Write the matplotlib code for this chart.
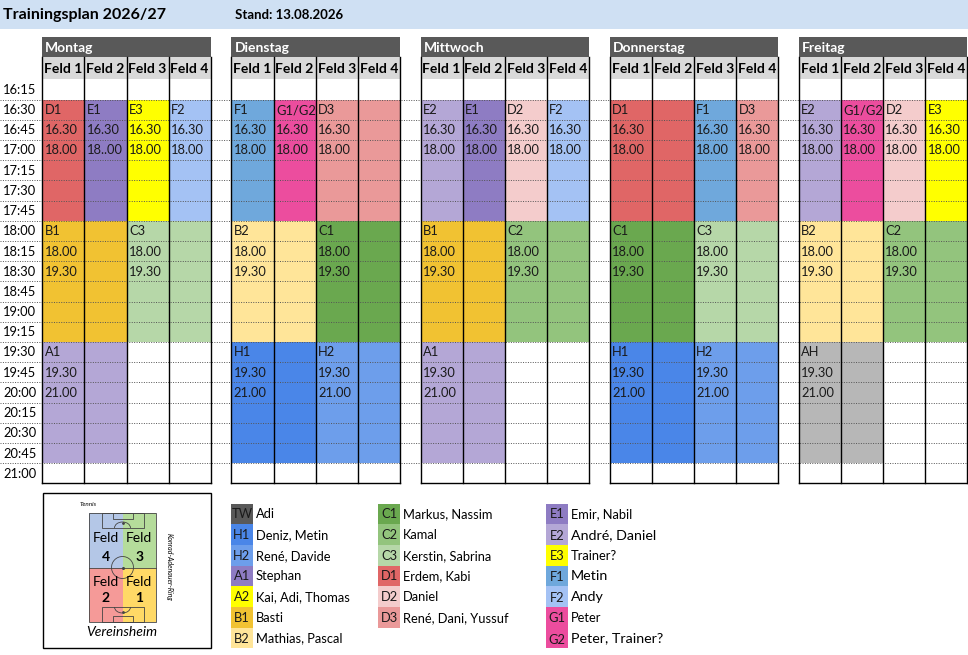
import matplotlib.pyplot as plt
from matplotlib.patches import Rectangle, Circle, Arc

plt.rcParams['font.family'] = ['Lato', 'DejaVu Sans']

# --- data --------------------------------------------------------------
title = 'Trainingsplan 2026/27'
stand = 'Stand: 13.08.2026'
days = ['Montag', 'Dienstag', 'Mittwoch', 'Donnerstag', 'Freitag']
fields = ['Feld 1', 'Feld 2', 'Feld 3', 'Feld 4']
slots = ['16:15', '16:30', '16:45', '17:00', '17:15', '17:30', '17:45',
         '18:00', '18:15', '18:30', '18:45', '19:00', '19:15',
         '19:30', '19:45', '20:00', '20:15', '20:30', '20:45', '21:00']

# training blocks: day, first field (1-4), number of fields, group, from, to
blk_day = [0, 0, 0, 0, 0, 0, 0,
           1, 1, 1, 1, 1, 1, 1,
           2, 2, 2, 2, 2, 2, 2,
           3, 3, 3, 3, 3, 3, 3,
           4, 4, 4, 4, 4, 4, 4]
blk_field = [1, 2, 3, 4, 1, 3, 1,
             1, 2, 3, 1, 3, 1, 3,
             1, 2, 3, 4, 1, 3, 1,
             1, 3, 4, 1, 3, 1, 3,
             1, 2, 3, 4, 1, 3, 1]
blk_span = [1, 1, 1, 1, 2, 2, 2,
            1, 1, 2, 2, 2, 2, 2,
            1, 1, 1, 1, 2, 2, 2,
            2, 1, 1, 2, 2, 2, 2,
            1, 1, 1, 1, 2, 2, 2]
blk_group = ['D1', 'E1', 'E3', 'F2', 'B1', 'C3', 'A1',
             'F1', 'G1/G2', 'D3', 'B2', 'C1', 'H1', 'H2',
             'E2', 'E1', 'D2', 'F2', 'B1', 'C2', 'A1',
             'D1', 'F1', 'D3', 'C1', 'C3', 'H1', 'H2',
             'E2', 'G1/G2', 'D2', 'E3', 'B2', 'C2', 'AH']
blk_from = ['16.30'] * 4 + ['18.00'] * 2 + ['19.30'] + \
           ['16.30'] * 3 + ['18.00'] * 2 + ['19.30'] * 2 + \
           ['16.30'] * 4 + ['18.00'] * 2 + ['19.30'] + \
           ['16.30'] * 3 + ['18.00'] * 2 + ['19.30'] * 2 + \
           ['16.30'] * 4 + ['18.00'] * 2 + ['19.30']
blk_to = ['18.00', '18..00', '18.00', '18.00', '19.30', '19.30', '21.00'] + \
         ['18.00'] * 3 + ['19.30'] * 2 + ['21.00'] * 2 + \
         ['18.00'] * 4 + ['19.30'] * 2 + ['21.00'] + \
         ['18.00'] * 3 + ['19.30'] * 2 + ['21.00'] * 2 + \
         ['18.00'] * 4 + ['19.30'] * 2 + ['21.00']

cell_colors = {'D1': '#e06666', 'D2': '#f4cccc', 'D3': '#ea9999',
               'E1': '#8e7cc3', 'E2': '#b4a7d6', 'E3': '#ffff00',
               'F1': '#6fa8dc', 'F2': '#a4c2f4', 'G1/G2': '#ec4d9e',
               'B1': '#f1c232', 'B2': '#ffe599',
               'C1': '#6aa84f', 'C2': '#93c47d', 'C3': '#b6d7a8',
               'A1': '#b4a7d6', 'H1': '#4a86e8', 'H2': '#6d9eeb',
               'AH': '#b7b7b7'}

leg_codes = [['TW', 'H1', 'H2', 'A1', 'A2', 'B1', 'B2'],
             ['C1', 'C2', 'C3', 'D1', 'D2', 'D3'],
             ['E1', 'E2', 'E3', 'F1', 'F2', 'G1', 'G2']]
leg_names = [['Adi', 'Deniz, Metin', 'René, Davide', 'Stephan',
              'Kai, Adi, Thomas', 'Basti', 'Mathias, Pascal'],
             ['Markus, Nassim', 'Kamal', 'Kerstin, Sabrina', 'Erdem, Kabi',
              'Daniel', 'René, Dani, Yussuf'],
             ['Emir, Nabil', 'André, Daniel', 'Trainer?', 'Metin', 'Andy',
              'Peter', 'Peter, Trainer?']]
leg_colors = [['#595959', '#4a86e8', '#6d9eeb', '#8e7cc3', '#ffff00',
               '#f1c232', '#ffe599'],
              ['#6aa84f', '#93c47d', '#b6d7a8', '#e06666', '#f4cccc',
               '#ea9999'],
              ['#8e7cc3', '#b4a7d6', '#ffff00', '#6fa8dc', '#a4c2f4',
               '#ec4d9e', '#ec4d9e']]

# --- layout (pixels) ---------------------------------------------------
W, H = 968, 655
DAY_X0, DAY_STEP, COL_W = 42.3, 189.1, 42.1
HEAD_Y, FELD_Y, ROW_TOP, ROW_H = 37, 57, 79.3, 20.2
FS = 9.3
big_names = {'E2', 'F1', 'F2', 'G2'}


def col_x(d, f):
    return DAY_X0 + d * DAY_STEP + f * COL_W


def row_y(i):
    return ROW_TOP + i * ROW_H


def slot_idx(t):
    return slots.index(t.replace('..', '.').replace('.', ':'))


fig = plt.figure(figsize=(W / 100, H / 100), dpi=100)
ax = fig.add_axes([0, 0, 1, 1])
ax.set_xlim(0, W)
ax.set_ylim(H, 0)
ax.axis('off')

# title band
ax.add_patch(Rectangle((0, 0), W, 29, color='#cfe0f3', lw=0))
ax.text(3, 15, title, fontsize=11.5, fontweight='bold', va='center')
ax.text(235, 15, stand, fontsize=9.5, fontweight='bold', va='center')

n_rows = len(slots)
bottom = row_y(n_rows)

for d, day in enumerate(days):
    x0 = col_x(d, 0)
    ax.add_patch(Rectangle((x0, HEAD_Y), 4 * COL_W, FELD_Y - HEAD_Y,
                           color='#595959', lw=0))
    ax.text(x0 + 3, (HEAD_Y + FELD_Y) / 2 + 1, day, color='white',
            fontsize=10, fontweight='bold', va='center')
    ax.add_patch(Rectangle((x0, FELD_Y), 4 * COL_W, ROW_TOP - FELD_Y,
                           color='#d9d9d9', lw=0))
    for f, name in enumerate(fields):
        ax.text(col_x(d, f) + COL_W / 2, (FELD_Y + ROW_TOP) / 2 + 1, name,
                fontsize=10, fontweight='bold', ha='center', va='center')

# training blocks
for d, f, s, g, t0, t1 in zip(blk_day, blk_field, blk_span, blk_group,
                              blk_from, blk_to):
    r0, r1 = slot_idx(t0), slot_idx(t1)
    x = col_x(d, f - 1)
    ax.add_patch(Rectangle((x, row_y(r0)), s * COL_W, row_y(r1) - row_y(r0),
                           color=cell_colors[g], lw=0))
    for k, txt in enumerate([g, t0, t1]):
        ax.text(x + 2.5, row_y(r0 + k) + ROW_H / 2 + 0.5, txt, fontsize=FS,
                va='center', color='#1a1a1a')

# time labels and dotted row lines
for i, t in enumerate(slots):
    ax.text(3, row_y(i) + ROW_H / 2 + 0.5, t, fontsize=FS, va='center')
    if i > 0:
        ax.plot([0, W], [row_y(i)] * 2, color='#555555', lw=0.7,
                ls=(0, (1, 1.5)))

# grid lines of each day
for d in range(len(days)):
    for f in range(5):
        ax.plot([col_x(d, f)] * 2, [FELD_Y, bottom], color='black', lw=1.0)
    ax.plot([col_x(d, 0), col_x(d, 4)], [bottom] * 2, color='black', lw=1.0)

# legend
LEG_X = [231, 378, 546]
LEG_Y0, LEG_H, SW = 503.5, 20.7, 22
for c in range(3):
    for j, (code, name, col) in enumerate(zip(leg_codes[c], leg_names[c],
                                              leg_colors[c])):
        y = LEG_Y0 + j * LEG_H
        ax.add_patch(Rectangle((LEG_X[c], y), SW, LEG_H, color=col, lw=0))
        big = code in big_names
        ax.text(LEG_X[c] + SW / 2, y + LEG_H / 2 + (1.5 if big else 0.5),
                code, fontsize=FS, ha='center', va='center',
                color='#1a1a1a', clip_on=False)
        ax.text(LEG_X[c] + SW + 3, y + LEG_H / 2 + 0.5, name,
                fontsize=10.3 if big else FS, va='center')

# field map
ax.add_patch(Rectangle((43, 493), 168, 155, fill=False, ec='black', lw=1.0))
px0, px1, py0, py1 = 89, 156, 513, 622
mx, my = (px0 + px1) / 2, (py0 + py1) / 2
quad = [((px0, py0), '#b4c7e7', '4', 25, 44), ((mx, py0), '#b5dc9b', '3', 25, 44),
        ((px0, my), '#f59a98', '2', 14, 31), ((mx, my), '#ffd966', '1', 14, 31)]
for (qx, qy), col, num, dy1, dy2 in quad:
    ax.add_patch(Rectangle((qx, qy), mx - px0, my - py0, color=col, lw=0))
    cx = qx + (mx - px0) / 2
    ax.text(cx, qy + dy1, 'Feld', fontsize=10, ha='center', va='center')
    ax.text(cx, qy + dy2, num, fontsize=10, fontweight='bold', ha='center',
            va='center')
lc = '#444444'
ax.add_patch(Rectangle((px0, py0), px1 - px0, py1 - py0, fill=False, ec=lc, lw=0.6))
ax.plot([px0, px1], [my, my], color=lc, lw=0.6)
ax.add_patch(Circle((mx, my), 11, fill=False, ec=lc, lw=0.6))
ax.plot(mx, my, 'o', color=lc, ms=1.2)
for sgn, gy in [(1, py0), (-1, py1)]:
    ax.add_patch(Rectangle((mx - 21, min(gy, gy + sgn * 15)), 42, 15,
                           fill=False, ec=lc, lw=0.6))
    ax.add_patch(Rectangle((mx - 10, min(gy, gy + sgn * 6)), 20, 6,
                           fill=False, ec=lc, lw=0.6))
    ax.plot(mx, gy + sgn * 10, 'o', color=lc, ms=1.0)
    ax.add_patch(Arc((mx, gy + sgn * 15), 16, 12,
                     theta1=0 if sgn < 0 else 180,
                     theta2=180 if sgn < 0 else 360, ec=lc, lw=0.6))
ax.text(80, 505, 'Tennis', fontsize=4.5, style='italic', va='center')
ax.text(169, 567, 'Konrad-Adenauer-Ring', fontsize=5, style='italic',
        rotation=-90, ha='center', va='center')
ax.text(mx - 1, 632, 'Vereinsheim', fontsize=10, style='italic',
        ha='center', va='center')

fig.savefig('out.png', dpi=100)
